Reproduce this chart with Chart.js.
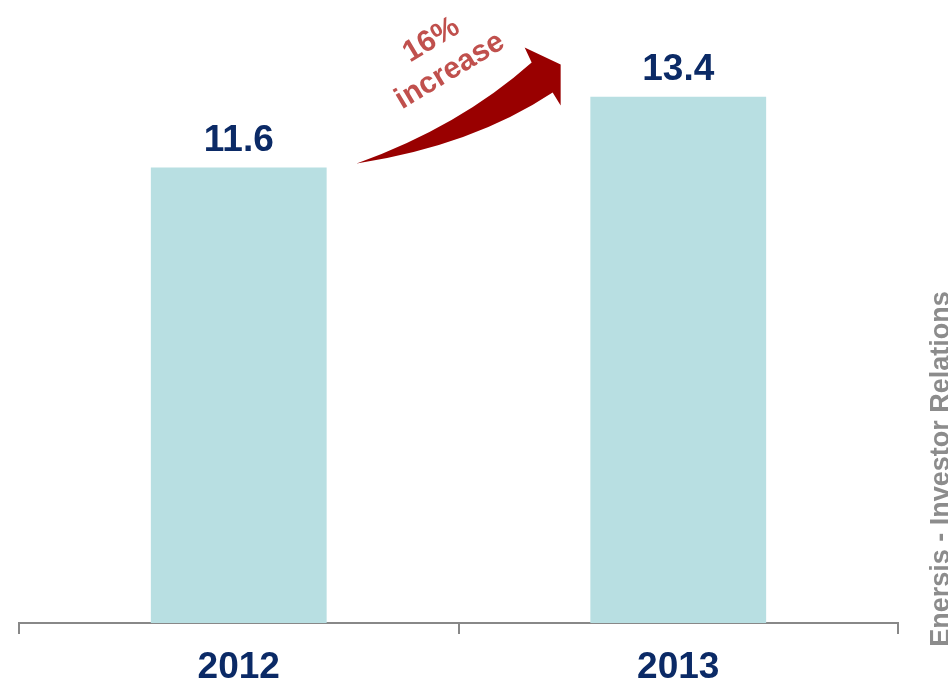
<!DOCTYPE html>
<html>
<head>
<meta charset="utf-8">
<script src="https://cdn.jsdelivr.net/npm/chart.js@4.4.1/dist/chart.umd.min.js"></script>
<style>
    html, body { margin: 0; padding: 0; background: #ffffff; }
    #wrap { width: 948px; height: 682px; position: relative; }
</style>
</head>
<body>
<div id="wrap"><canvas id="barChart"></canvas></div>
<script>
const years = ["2012", "2013"];
const values = [11.6, 13.4];
const increaseText = ["16%", "increase"];
const sideNote = "Enersis - Investor Relations";

const NAVY = "#0b2a66";
const FONT = "'Liberation Sans', Arial, sans-serif";

// value printed above each bar
const valueLabels = {
    id: "valueLabels",
    afterDatasetsDraw(chart) {
        const ctx = chart.ctx;
        const bars = chart.getDatasetMeta(0).data;
        ctx.save();
        ctx.font = "bold 37px " + FONT;
        ctx.fillStyle = NAVY;
        ctx.textAlign = "center";
        ctx.textBaseline = "alphabetic";
        bars.forEach((bar, i) => {
            ctx.fillText(values[i].toFixed(1), bar.x, bar.y - 17);
        });
        ctx.restore();
    }
};

// curved growth arrow between the bars, anchored to the first bar's top right corner
const growthArrow = {
    id: "growthArrow",
    afterDatasetsDraw(chart) {
        const ctx = chart.ctx;
        const bar = chart.getDatasetMeta(0).data[0];
        const ox = bar.x + bar.width / 2 + 30;
        const oy = bar.y - 4;
        const p = (dx, dy) => [ox + dx, oy + dy];

        ctx.save();
        ctx.fillStyle = "#990000";
        ctx.beginPath();
        ctx.moveTo(...p(0, 0));
        ctx.quadraticCurveTo(...p(103, -37), ...p(175, -101));
        ctx.lineTo(...p(168, -116));
        ctx.lineTo(...p(204, -99));
        ctx.lineTo(...p(204, -58));
        ctx.lineTo(...p(196, -71));
        ctx.quadraticCurveTo(...p(116, -18), ...p(0, 0));
        ctx.closePath();
        ctx.fill();

        // label along the arrow
        ctx.translate(...p(84, -108));
        ctx.rotate(-31 * Math.PI / 180);
        ctx.font = "bold 30px " + FONT;
        ctx.fillStyle = "#c0504d";
        ctx.textAlign = "center";
        ctx.textBaseline = "middle";
        ctx.fillText(increaseText[0], 0, -18);
        ctx.fillText(increaseText[1], 0, 18);
        ctx.restore();
    }
};

// vertical footer text on the right edge
const sideText = {
    id: "sideText",
    afterDraw(chart) {
        const ctx = chart.ctx;
        ctx.save();
        ctx.translate(949, 469);
        ctx.rotate(-Math.PI / 2);
        ctx.font = "bold 27px " + FONT;
        ctx.fillStyle = "#8c8c8c";
        ctx.textAlign = "center";
        ctx.textBaseline = "alphabetic";
        ctx.fillText(sideNote, 0, 0);
        ctx.restore();
    }
};

new Chart(document.getElementById("barChart"), {
    type: "bar",
    data: {
        labels: years,
        datasets: [{
            data: values,
            backgroundColor: "#b8dfe2",
            borderWidth: 0,
            barPercentage: 0.8,
            categoryPercentage: 0.5
        }]
    },
    options: {
        responsive: true,
        maintainAspectRatio: false,
        animation: false,
        layout: { padding: { top: 34, left: 19, right: 50, bottom: 0 } },
        plugins: {
            legend: { display: false },
            tooltip: { enabled: false }
        },
        scales: {
            y: { display: false, min: 0, max: 15 },
            x: {
                // keep the axis band tight so the year labels sit at the bottom edge
                afterFit(scale) { scale.height = 59; },
                border: { display: true, color: "#888888", width: 2 },
                grid: {
                    drawOnChartArea: false,
                    drawTicks: true,
                    tickLength: 11,
                    color: "#888888",
                    lineWidth: 2
                },
                ticks: {
                    color: NAVY,
                    padding: 15,
                    font: { family: FONT, size: 37, weight: "bold", lineHeight: 1 }
                }
            }
        }
    },
    plugins: [valueLabels, growthArrow, sideText]
});
</script>
</body>
</html>
